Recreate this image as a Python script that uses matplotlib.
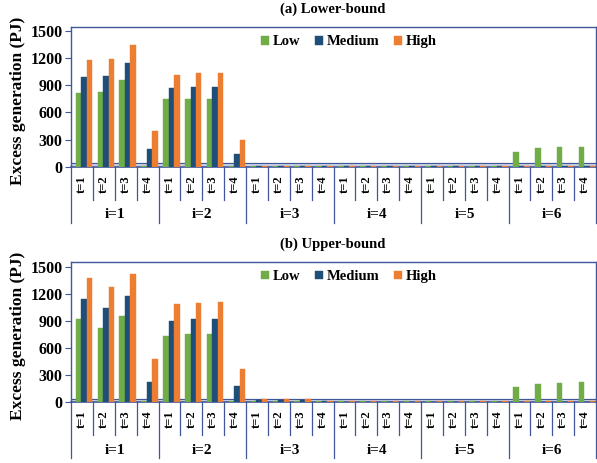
import numpy as np
import matplotlib.pyplot as plt
from matplotlib.transforms import blended_transform_factory

plt.rcParams['font.family'] = ['Liberation Serif', 'DejaVu Serif']
plt.rcParams['font.weight'] = 'bold'

# Категории
groups = ["i=1", "i=2", "i=3", "i=4", "i=5", "i=6"]
periods = ["t=1", "t=2", "t=3", "t=4"]
series = ["Low", "Medium", "High"]
colors = ["#70AD47", "#1F4E79", "#ED7D31"]

# (a) Lower-bound
low_a = [816, 827, 956, 10, 743, 750, 750, 10,
         12, 12, 12, 12, 12, 12, 12, 12,
         12, 12, 12, 12, 165, 208, 212, 222]
med_a = [985, 1000, 1140, 191, 868, 882, 882, 140,
         8, 8, 8, 8, 8, 8, 8, 8,
         8, 8, 8, 8, 8, 8, 8, 8]
high_a = [1176, 1191, 1342, 397, 1015, 1029, 1037, 294,
          12, 12, 12, 12, 12, 12, 12, 12,
          12, 12, 12, 12, 12, 12, 12, 12]

# (b) Upper-bound
low_b = [921, 826, 958, 10, 737, 752, 752, 10,
         12, 12, 12, 12, 12, 12, 12, 12,
         12, 12, 12, 12, 165, 205, 210, 222]
med_b = [1139, 1039, 1176, 228, 903, 918, 918, 177,
         28, 28, 28, 10, 8, 8, 8, 8,
         8, 8, 8, 8, 8, 8, 8, 8]
high_b = [1371, 1279, 1419, 479, 1083, 1102, 1106, 369,
          42, 42, 42, 14, 12, 12, 12, 12,
          12, 12, 12, 12, 12, 12, 12, 12]

yticks = [0, 300, 600, 900, 1200, 1500]
line_c = "#42569A"

W, H = 597, 463
fig = plt.figure(figsize=(W / 100, H / 100), dpi=100)


def panel(bottom_px, top_px, ymax, title, title_y, data):
    ax = fig.add_axes([71 / W, (H - bottom_px) / H, 525 / W, (bottom_px - top_px) / H])
    n = len(groups) * len(periods)
    x = np.arange(n)
    # пол диаграммы
    ax.axhspan(0, 40, color="#C8D0E4", zorder=1)
    ax.axhline(40, color=line_c, lw=0.8, zorder=1.5)
    offs = [-0.16, 0.09, 0.34]
    for vals, c, o, name in zip(data, colors, offs, series):
        ax.bar(x + o, vals, 0.25, color=c, edgecolor=c, lw=0.3, zorder=3, label=name)
    ax.set_xlim(-0.5, n - 0.5)
    ax.set_ylim(0, ymax)
    ax.set_yticks(yticks)
    ax.tick_params(axis='y', length=4, color=line_c, labelsize=11.5, pad=2)
    ax.set_xticks([])
    for s in ax.spines.values():
        s.set_color(line_c)
        s.set_linewidth(1.0)
    ax.spines['bottom'].set_linewidth(1.2)

    # подписи категорий и разделители
    tr = blended_transform_factory(ax.transData, ax.transAxes)
    h = bottom_px - top_px
    for k in range(n + 1):
        ext = -56 / h if k % 4 == 0 else -33 / h
        ax.plot([k - 0.5, k - 0.5], [0, ext], color=line_c, lw=0.9,
                transform=tr, clip_on=False)
    for k in range(n):
        ax.text(k, -17 / h, periods[k % 4], transform=tr, rotation=90,
                ha='center', va='center', fontsize=9)
    for g, name in enumerate(groups):
        ax.text(g * 4 + 1.5, -48 / h, name, transform=tr,
                ha='center', va='center', fontsize=11)

    ax.legend(loc='center', bbox_to_anchor=(0.53, 0.893), ncol=3, frameon=False,
              fontsize=10.5, handlelength=0.55, handleheight=0.55,
              handletextpad=0.25, columnspacing=1.0)
    fig.text(333 / W, (H - title_y) / H, title, ha='center', va='center', fontsize=10.5)
    fig.text(18 / W, (H - (bottom_px + top_px) / 2 - 4) / H, "Excess generation (PJ)",
             rotation=90, ha='center', va='center', fontsize=12.5)
    return ax


panel(166.7, 27, 1541, "(a) Lower-bound", 9, [low_a, med_a, high_a])
panel(402.3, 261.7, 1555, "(b) Upper-bound", 244, [low_b, med_b, high_b])

plt.savefig("out.png", dpi=100)
